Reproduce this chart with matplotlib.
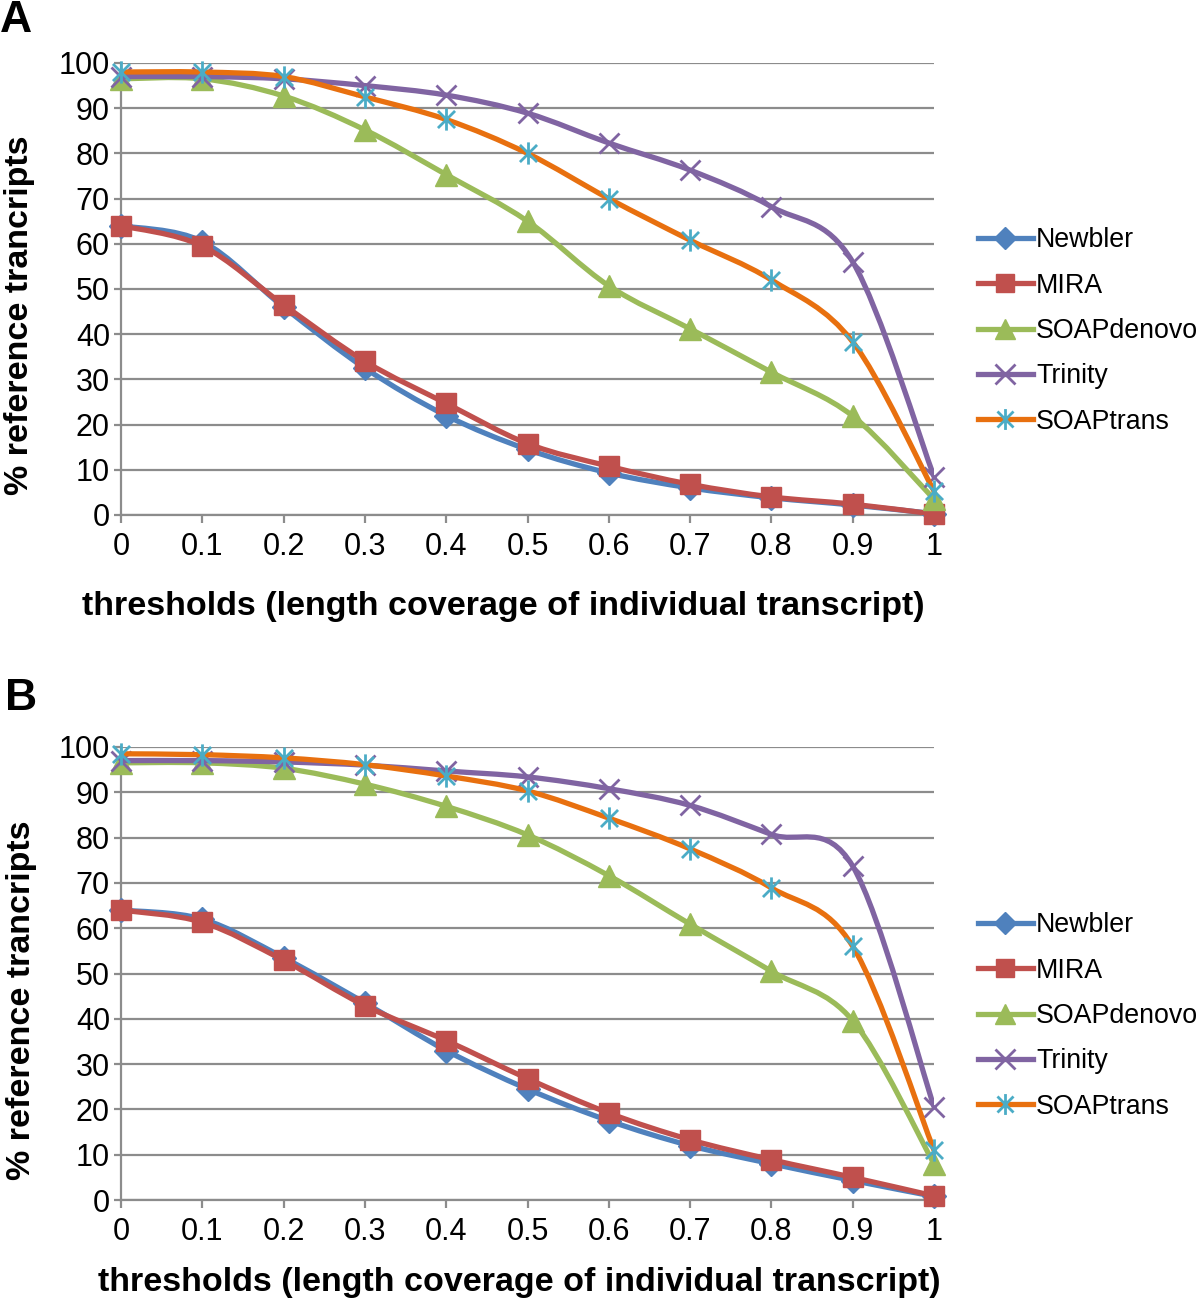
import matplotlib
matplotlib.use("Agg")
import matplotlib.pyplot as plt
from matplotlib.path import Path
from matplotlib.patches import PathPatch
from matplotlib.lines import Line2D
import numpy as np

plt.rcParams['font.family'] = ['Liberation Sans', 'DejaVu Sans']

thresholds = [0, 0.1, 0.2, 0.3, 0.4, 0.5, 0.6, 0.7, 0.8, 0.9, 1.0]
tick_labels = ['0', '0.1', '0.2', '0.3', '0.4', '0.5', '0.6', '0.7', '0.8', '0.9', '1']
names = ['Newbler', 'MIRA', 'SOAPdenovo', 'Trinity', 'SOAPtrans']

# panel A
newbler_a = [64, 60.5, 46, 32.5, 22, 14.5, 9.3, 6, 3.8, 2.2, 0.3]
mira_a = [64, 59.5, 46.5, 34, 24.7, 15.8, 10.8, 6.8, 4, 2.4, 0.2]
soapdenovo_a = [96.5, 96.5, 92.7, 85.2, 75.3, 65, 50.7, 41.2, 31.6, 21.9, 3.5]
trinity_a = [97, 97, 96.5, 95, 92.9, 88.9, 82.3, 76.3, 68.2, 56, 8.5]
soaptrans_a = [98, 98, 97, 92.5, 87.5, 80, 70, 60.8, 52, 38.3, 5.3]

# panel B
newbler_b = [64, 62, 53.5, 43.5, 33, 24.5, 17.5, 12, 8, 4.3, 0.8]
mira_b = [64, 61.3, 52.9, 42.9, 35.2, 26.8, 19.2, 13.3, 8.9, 5, 0.9]
soapdenovo_b = [96.5, 96.5, 95.3, 91.8, 86.9, 80.6, 71.6, 60.9, 50.5, 39.6, 8]
trinity_b = [97, 97, 96.7, 96, 94.7, 93.4, 90.8, 87.1, 80.7, 73.7, 20.6]
soaptrans_b = [98.5, 98.3, 97.6, 96.1, 93.6, 90.3, 84.3, 77.5, 68.9, 56, 11]

line_colors = ['#4F81BD', '#C0504D', '#9BBB59', '#8064A2', '#E8700F']
marker_colors = ['#4F81BD', '#C0504D', '#9BBB59', '#8064A2', '#4BACC6']

# excel style star marker: x with a vertical bar
star = Path([(-1, -1), (1, 1), (-1, 1), (1, -1), (0, -1.3), (0, 1.3)],
            [Path.MOVETO, Path.LINETO, Path.MOVETO, Path.LINETO, Path.MOVETO, Path.LINETO])
markers = ['D', 's', '^', 'x', star]
msizes = [12, 14, 16, 15, 16]


def smooth_path(x, y):
    # bezier segments like excel's smoothed line
    pts = np.column_stack([x, y]).astype(float)
    n = len(pts)
    verts = [pts[0]]
    codes = [Path.MOVETO]
    for i in range(n - 1):
        p0 = pts[max(i - 1, 0)]
        p1 = pts[i]
        p2 = pts[i + 1]
        p3 = pts[min(i + 2, n - 1)]
        c1 = p1 + (p2 - p0) / 6.0
        c2 = p2 - (p3 - p1) / 6.0
        verts += [c1, c2, p2]
        codes += [Path.CURVE4] * 3
    return Path(verts, codes)


def draw_panel(ax, series):
    for i, ys in enumerate(series):
        patch = PathPatch(smooth_path(thresholds, ys), facecolor='none',
                          edgecolor=line_colors[i], lw=3.8, zorder=3 + 2 * i,
                          capstyle='round', joinstyle='round')
        ax.add_patch(patch)
        mew = 2.0 if i >= 3 else 1
        ax.plot(thresholds, ys, linestyle='none', marker=markers[i], ms=msizes[i],
                color=marker_colors[i], markeredgecolor=marker_colors[i],
                markeredgewidth=mew, zorder=4 + 2 * i, clip_on=False)
    ax.set_xlim(0, 1)
    ax.set_ylim(0, 100)
    ax.set_xticks(thresholds)
    ax.set_xticklabels(tick_labels)
    ax.set_yticks(range(0, 101, 10))
    ax.yaxis.grid(True, color='#8C8C8C', lw=1.6)
    ax.set_axisbelow(True)
    for s in ['top', 'right']:
        ax.spines[s].set_visible(False)
    for s in ['left', 'bottom']:
        ax.spines[s].set_color('#8C8C8C')
        ax.spines[s].set_linewidth(1.6)
    ax.tick_params(axis='y', length=5, width=1.6, color='#8C8C8C', pad=3, labelsize=22)
    ax.tick_params(axis='x', length=6, width=1.6, color='#8C8C8C', pad=6, labelsize=22)


fig = plt.figure(figsize=(12, 13.05), dpi=100)
W, H = 1200, 1305

ax_a = fig.add_axes([121 / W, 1 - 515 / H, 813 / W, 452 / H])
ax_b = fig.add_axes([121 / W, 1 - 1200 / H, 813 / W, 453 / H])
draw_panel(ax_a, [newbler_a, mira_a, soapdenovo_a, trinity_a, soaptrans_a])
draw_panel(ax_b, [newbler_b, mira_b, soapdenovo_b, trinity_b, soaptrans_b])

handles = [Line2D([], [], color=line_colors[i], lw=3.8, marker=markers[i],
                  ms=msizes[i] - 1, markerfacecolor=marker_colors[i],
                  markeredgecolor=marker_colors[i],
                  markeredgewidth=2.0 if i >= 3 else 1) for i in range(5)]

for cy in [331, 1016]:
    fig.legend(handles, names, loc='center left', bbox_to_anchor=(978 / W, 1 - cy / H),
               frameon=False, fontsize=19.3, handlelength=2.05, handletextpad=0.12,
               labelspacing=0.72, borderpad=0, borderaxespad=0)

# panel letters
fig.text(0 / W, 1 - 20 / H, 'A', fontsize=32, fontweight='bold', va='center', ha='left')
fig.text(5 / W, 1 - 698 / H, 'B', fontsize=32, fontweight='bold', va='center', ha='left')

# axis titles
fig.text(503 / W, 1 - 606 / H, 'thresholds (length coverage of individual transcript)',
         fontsize=24.5, fontweight='bold', ha='center', va='center')
fig.text(519 / W, 1 - 1283 / H, 'thresholds (length coverage of individual transcript)',
         fontsize=24.5, fontweight='bold', ha='center', va='center')
fig.text(20 / W, 1 - 315 / H, '% reference trancripts', fontsize=24.5, fontweight='bold',
         rotation=90, ha='center', va='center')
fig.text(22 / W, 1 - 1000 / H, '% reference trancripts', fontsize=24.5, fontweight='bold',
         rotation=90, ha='center', va='center')

fig.savefig('out.png', dpi=100)
